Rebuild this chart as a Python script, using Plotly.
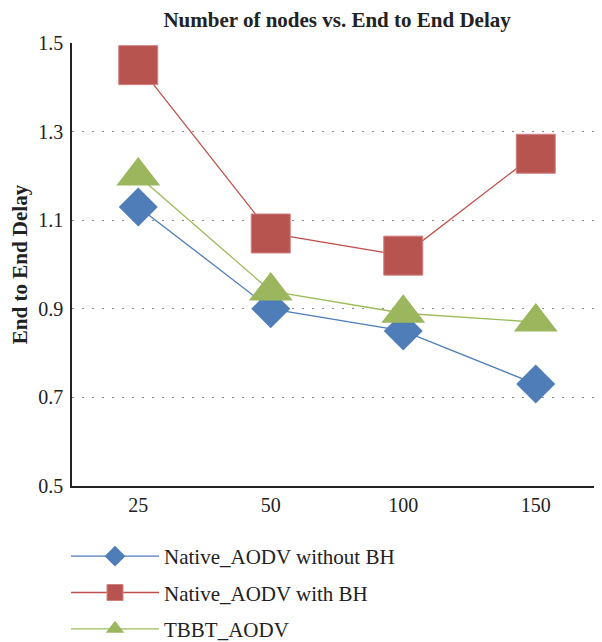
import plotly.graph_objects as go

categories = ["25", "50", "100", "150"]
native_without_bh = [1.13, 0.90, 0.85, 0.73]
native_with_bh = [1.45, 1.07, 1.02, 1.25]
tbbt_aodv = [1.20, 0.94, 0.89, 0.87]

serif = "Liberation Serif"

fig = go.Figure()
fig.add_trace(go.Scatter(
    x=categories, y=native_without_bh, name="Native_AODV without BH",
    mode="lines+markers", legendgroup="a",
    line=dict(color="#4F7DB8", width=1.3),
    marker=dict(symbol="diamond", size=30, color="#4F7DB8"),
))
fig.add_trace(go.Scatter(
    x=categories, y=native_with_bh, name="Native_AODV with BH",
    mode="lines+markers", legendgroup="b",
    line=dict(color="#C0504D", width=1.3),
    marker=dict(symbol="square", size=39, color="#B85450",
                line=dict(color="#D08080", width=1)),
))
fig.add_trace(go.Scatter(
    x=categories, y=tbbt_aodv, name="TBBT_AODV",
    mode="lines+markers", legendgroup="c",
    line=dict(color="#9BBB59", width=1.3),
    marker=dict(symbol="triangle-up", size=38, color="#9BB65C"),
))

fig.update_layout(
    width=594, height=634,
    paper_bgcolor="white", plot_bgcolor="white",
    margin=dict(l=64, r=0, t=35, b=156, autoexpand=False),
    font=dict(family=serif, size=20, color="#222"),
    title=dict(text="<b>Number of nodes vs. End to End Delay</b>",
               x=0.554, xanchor="center", y=1 - 12 / 634, yanchor="middle",
               font=dict(family=serif, size=21, color="#222")),
    xaxis=dict(type="category", range=[-0.5, 3.5], showgrid=False,
               showline=True, linecolor="#222", linewidth=1.5,
               ticks="", tickfont=dict(family=serif, size=20, color="#222"),
               ticklabelstandoff=0),
    yaxis=dict(range=[0.5, 1.5], tick0=0.5, dtick=0.2, automargin=True,
               showgrid=True, gridcolor="#888", griddash="2px,8px", gridwidth=1.2,
               showline=True, linecolor="#222", linewidth=1.5,
               zeroline=False, ticks="", tickformat=".1f",
               tickfont=dict(family=serif, size=20, color="#222"),
               ticklabelstandoff=3,
               title=dict(text="<b>End to End Delay</b>",
                          font=dict(family=serif, size=21, color="#222"),
                          standoff=12)),
    legend=dict(x=-0.0113, xanchor="left", y=-0.113, yanchor="top",
                orientation="v", font=dict(family=serif, size=21, color="#222"),
                tracegroupgap=6, itemsizing="trace", itemwidth=88,
                bgcolor="rgba(0,0,0,0)"),
    showlegend=True,
)

fig.write_html("out.html")
